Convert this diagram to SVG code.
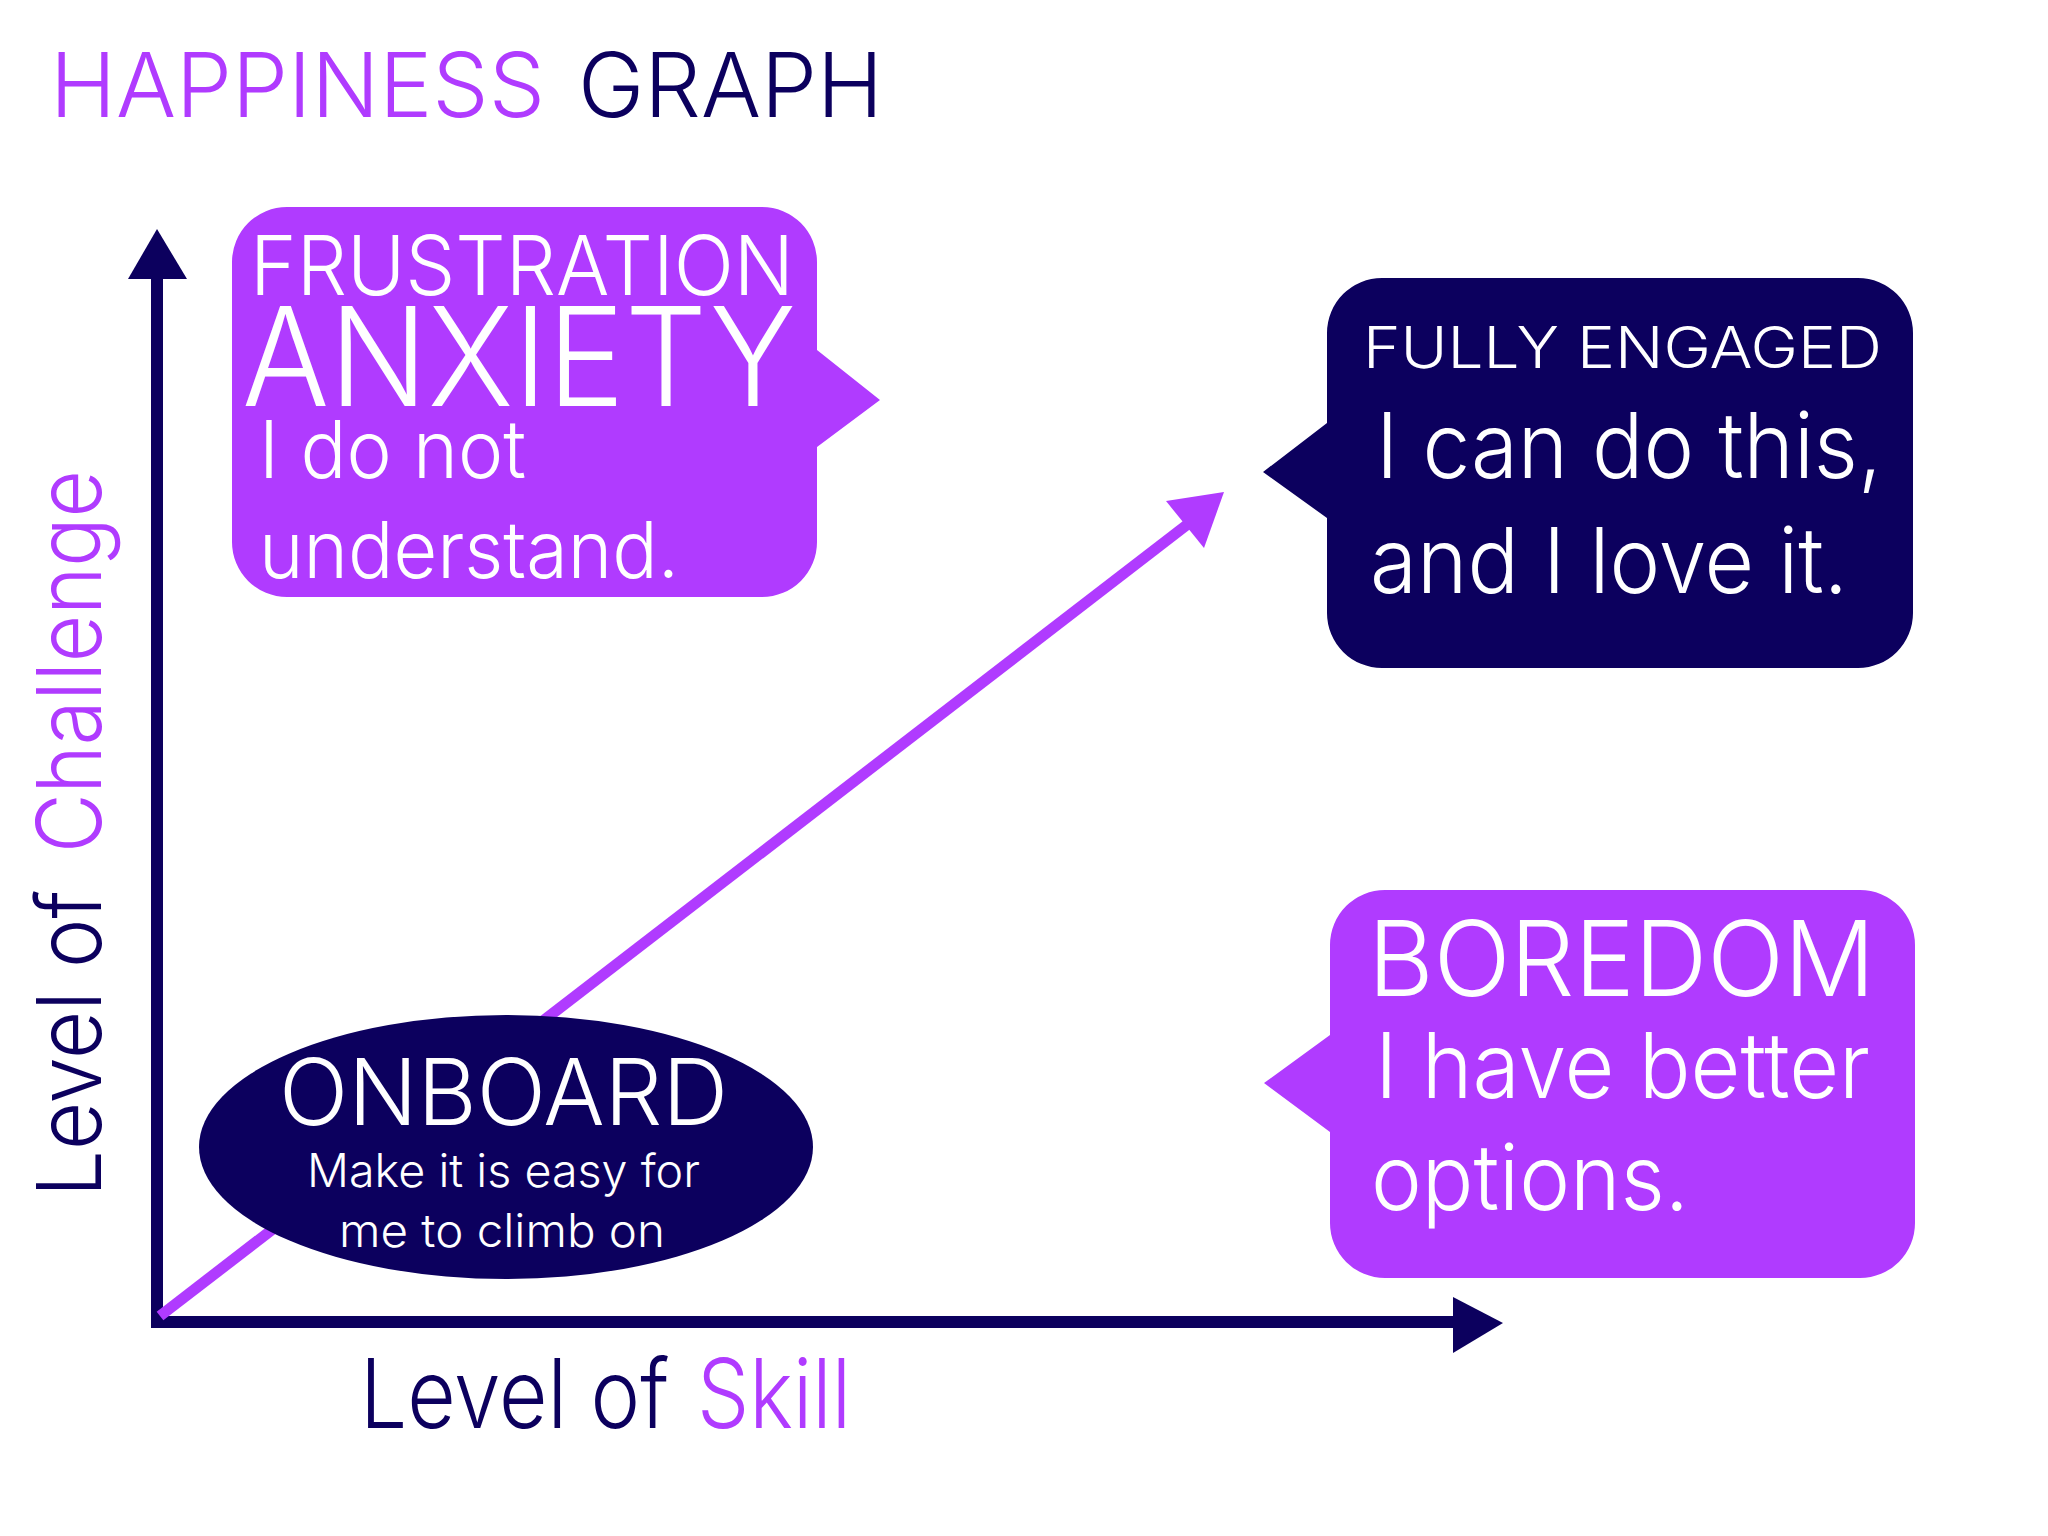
<svg xmlns="http://www.w3.org/2000/svg" width="2048" height="1536" viewBox="0 0 2048 1536">
<style>
text{font-family:Inter,"Liberation Sans",Arial,sans-serif;font-weight:300;}
.w{fill:#ffffff;}
.p{fill:#b03bff;}
.n{fill:#0c005e;}
</style>
<rect x="0" y="0" width="2048" height="1536" fill="#ffffff"/>
<g id="title">
<text class="p" x="50" y="117" font-size="90" textLength="495" lengthAdjust="spacingAndGlyphs">HAPPINESS</text>
<text class="n" x="578" y="117" font-size="90" textLength="305" lengthAdjust="spacingAndGlyphs">GRAPH</text>
</g>
<g id="connectors">
<line x1="157" y1="1322" x2="157" y2="275" stroke="#0c005e" stroke-width="12"/>
<polygon class="n" points="128,279 157,229 187,279"/>
<line x1="151" y1="1322" x2="1458" y2="1322" stroke="#0c005e" stroke-width="12"/>
<polygon class="n" points="1453,1297 1503,1323 1453,1353"/>
<line x1="160" y1="1316" x2="1188" y2="524" stroke="#b03bff" stroke-width="11"/>
<polygon class="p" points="1224,492 1166,501 1204,548"/>
</g>
<g id="axis-y-label" transform="translate(101,1197) rotate(-90)">
<text class="n" x="0" y="0" font-size="90" textLength="307" lengthAdjust="spacingAndGlyphs">Level of</text>
<text class="p" x="344" y="0" font-size="90" textLength="383" lengthAdjust="spacingAndGlyphs">Challenge</text>
</g>
<g id="axis-x-label">
<text class="n" x="360" y="1428" font-size="96" textLength="309" lengthAdjust="spacingAndGlyphs">Level of</text>
<text class="p" x="697" y="1428" font-size="96" textLength="154" lengthAdjust="spacingAndGlyphs">Skill</text>
</g>
<g id="frustration">
<path class="p" d="M287,207 H762 A55,55 0 0 1 817,262 V350 L880,400 L817,447 V542 A55,55 0 0 1 762,597 H287 A55,55 0 0 1 232,542 V262 A55,55 0 0 1 287,207 Z"/>
<text class="w" x="250" y="295" font-size="83" textLength="544" lengthAdjust="spacingAndGlyphs">FRUSTRATION</text>
<text class="w" x="242" y="406" font-size="138" textLength="554" lengthAdjust="spacingAndGlyphs">ANXIETY</text>
<text class="w" x="259" y="478" font-size="80" textLength="267" lengthAdjust="spacingAndGlyphs">I do not</text>
<text class="w" x="259" y="578" font-size="79" textLength="420" lengthAdjust="spacingAndGlyphs">understand.</text>
</g>
<g id="fully-engaged">
<path class="n" d="M1382,278 H1858 A55,55 0 0 1 1913,333 V613 A55,55 0 0 1 1858,668 H1382 A55,55 0 0 1 1327,613 V518 L1263,472 L1327,423 V333 A55,55 0 0 1 1382,278 Z"/>
<text class="w" x="1363" y="368" font-size="57" textLength="519" lengthAdjust="spacingAndGlyphs">FULLY ENGAGED</text>
<text class="w" x="1376" y="478" font-size="91" textLength="506" lengthAdjust="spacingAndGlyphs">I can do this,</text>
<text class="w" x="1370" y="593" font-size="91" textLength="478" lengthAdjust="spacingAndGlyphs">and I love it.</text>
</g>
<g id="boredom">
<path class="p" d="M1385,890 H1860 A55,55 0 0 1 1915,945 V1223 A55,55 0 0 1 1860,1278 H1385 A55,55 0 0 1 1330,1223 V1132 L1264,1083 L1330,1035 V945 A55,55 0 0 1 1385,890 Z"/>
<text class="w" x="1368" y="996" font-size="105" textLength="507" lengthAdjust="spacingAndGlyphs">BOREDOM</text>
<text class="w" x="1375" y="1098" font-size="91" textLength="495" lengthAdjust="spacingAndGlyphs">I have better</text>
<text class="w" x="1371" y="1210" font-size="91" textLength="318" lengthAdjust="spacingAndGlyphs">options.</text>
</g>
<g id="onboard">
<ellipse class="n" cx="506" cy="1147" rx="307" ry="132"/>
<text class="w" x="279" y="1125" font-size="92" textLength="449" lengthAdjust="spacingAndGlyphs">ONBOARD</text>
<text class="w" x="307" y="1187" font-size="46" textLength="393" lengthAdjust="spacingAndGlyphs">Make it is easy for</text>
<text class="w" x="339" y="1247" font-size="46" textLength="326" lengthAdjust="spacingAndGlyphs">me to climb on</text>
</g>
</svg>
